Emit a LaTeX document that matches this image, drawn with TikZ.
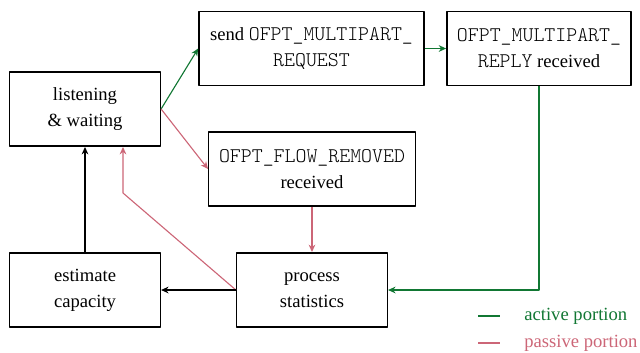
\documentclass[tikz,border=0pt]{standalone}
\usepackage{fontspec}
\setmainfont{Liberation Serif}
\setmonofont{Latin Modern Mono Light}[Scale=1.12]
\usetikzlibrary{arrows.meta,calc,positioning}
\definecolor{actgreen}{HTML}{117733}
\definecolor{passrose}{HTML}{CC6677}
\tikzset{state/.style={draw,thick,align=center,minimum width=81pt,minimum height=40pt,inner sep=2pt},
  active/.style={actgreen,semithick},
  passive/.style={passrose,semithick}}

\begin{document}
\begin{tikzpicture}[x=0.5375pt,y=0.5375pt,>={Stealth[length=4pt,width=3.6pt]},line join=round,font=\fontsize{10}{14}\selectfont]
\useasboundingbox (0,0) rectangle (640,352);
% --- states
\node[state] (listen) at (85,243) {listening\\ \& waiting};
\node[state,minimum width=121pt] (send) at (311.5,303.5) {send \texttt{OFPT\_MULTIPART\_}\\ \texttt{REQUEST}};
\node[state,minimum width=99pt] (reply) at (539,303.5) {\texttt{OFPT\_MULTIPART\_}\\ \texttt{REPLY} received};
\node[state,minimum width=111pt] (flow) at (312,183) {\texttt{OFPT\_FLOW\_REMOVED}\\ received};
\node[state] (estimate) at (85,62) {estimate\\ capacity};
\node[state] (process) at (312,62) {process\\ statistics};
\coordinate (kink) at (123,159);
% --- active path
\draw[active,->] (listen.east) -- (send.west);
\draw[active,->] (send.east) -- (reply.west);
\draw[active,->] (reply.south) |- (process.east);
% --- passive path
\draw[passive,->] (listen.east) -- (flow.west);
\draw[passive,->] (flow.south) -- (process.north);
\draw[passive,->] (process.west) -- (kink) -- (kink |- listen.south);
% --- back to waiting
\draw[semithick,->] (process.west) -- (estimate.east);
\draw[semithick,->] (estimate.north) -- (listen.south);
% --- legend
\coordinate (lga) at (478,36); \coordinate (lgp) at (478,9);
\draw[active] (lga) -- ++(22,0);
\node[anchor=west,actgreen,inner sep=0pt] (lgatext) at ($(lga)+(46,0)$) {active portion};
\draw[passive] (lgp) -- ++(22,0);
\node[anchor=west,passrose,inner sep=0pt] (lgptext) at ($(lgp)+(46,0)$) {passive portion};
\end{tikzpicture}
\end{document}
